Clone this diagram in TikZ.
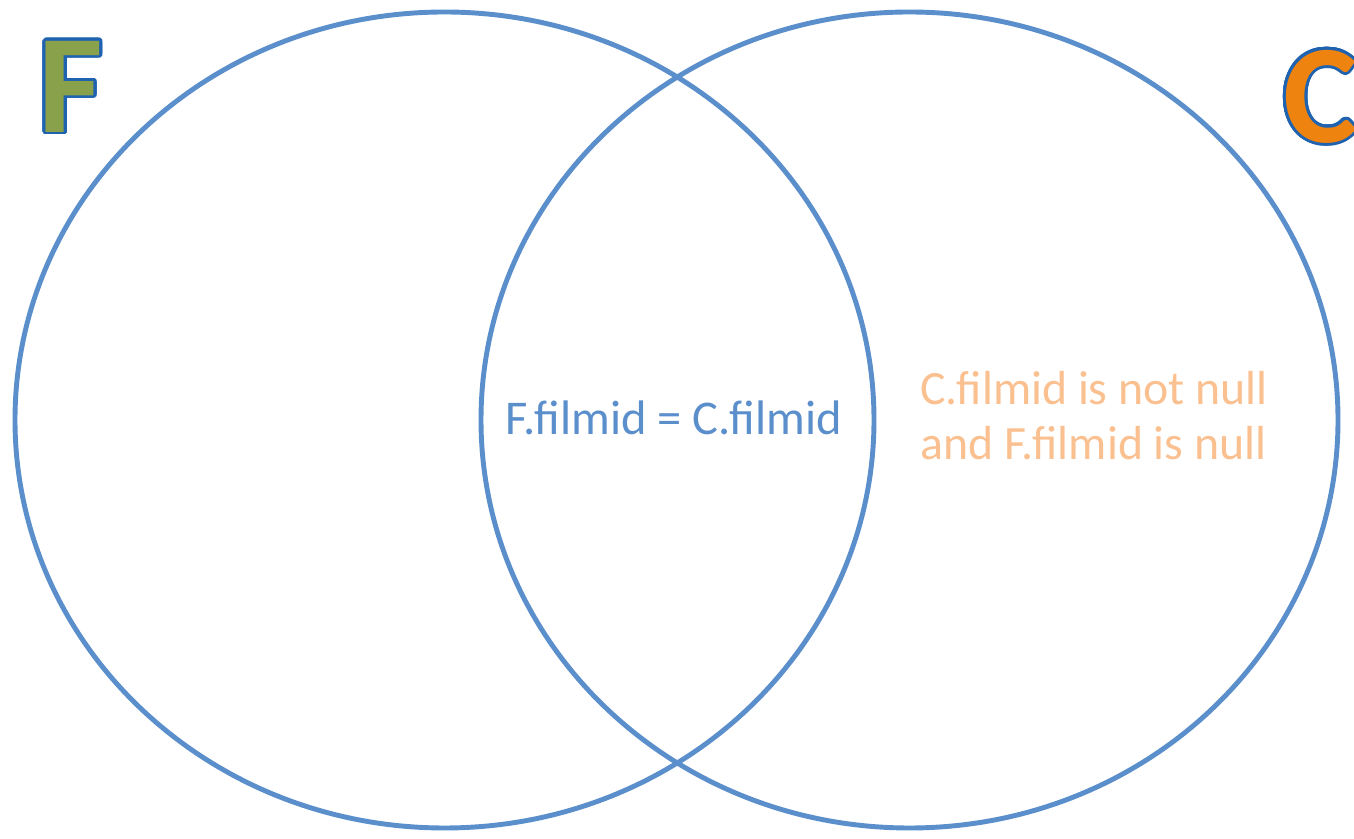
\documentclass[tikz,border=0pt]{standalone}
\usepackage{fontspec}
\setmainfont{Carlito}
\usepackage{contour}
\contourlength{1.6pt}
\contournumber{32}
\definecolor{vennblue}{HTML}{5B8FCC}
\definecolor{nullorange}{HTML}{FAC090}
\definecolor{setgreen}{HTML}{8AA14B}
\definecolor{setorange}{HTML}{EE8310}
\definecolor{rimblue}{HTML}{1F63B0}
\begin{document}
\begin{tikzpicture}[vennline/.style = {draw = vennblue, line width = 2.8pt},
	setletter/.style = {font = \fontsize{80}{80}\selectfont\bfseries, inner sep = 0pt}]
		\useasboundingbox (0, 0) rectangle (27.08, 16.78);
		\draw[vennline] (8.89, 8.38) ellipse [x radius = 8.59, y radius = 8.16];
		\draw[vennline] (18.19, 8.38) ellipse [x radius = 8.57, y radius = 8.16];
		\node[setletter] (letterF) at (1.42, 15.02) {\contour{rimblue}{\textcolor{setgreen}{F}}};
		\node[setletter, anchor = west] (letterC) at (25.66, 14.82) {\contour{rimblue}{\textcolor{setorange}{C}}};
		\node[anchor = base, text = vennblue, font = \fontsize{27.6}{32}\selectfont] (inner) at (13.48, 8.08) {F.filmid = C.filmid};
		\node[anchor = base west, text = nullorange, align = left, font = \fontsize{27.2}{31.3}\selectfont] (rightonly) at (18.28, 7.58) {C.filmid is not null \\ and F.filmid is null};
	\end{tikzpicture}
\end{document}
